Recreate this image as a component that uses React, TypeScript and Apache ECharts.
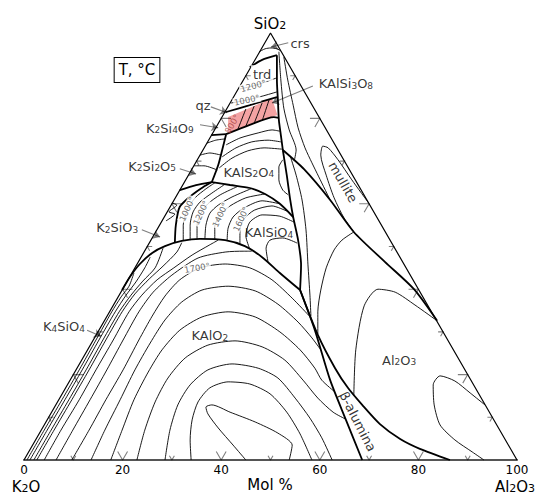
import React, { useEffect, useRef } from "react";
import * as echarts from "echarts";

type Pt = [number, number];
// All points: [horizontal position on the K2O–Al2O3 mol % scale (= Al2O3 + SiO2/2), SiO2 mol %]

const axisTickValues = [0, 20, 40, 60, 80, 100];
const edgeTickValues = [10, 20, 30, 40, 50, 60, 70, 80, 90];
const majorEdgeTicks = [20, 40, 60, 80];
const triangle: Pt[] = [[0, 0], [50, 100], [100, 0]];

// ---- phase boundaries (bold) ----
const bndKAlO2: Pt[] = [[19.9,39.8],[21.5,42.9],[23.5,45.9],[26.0,48.5],[28.6,50.1],[32.0,51.3],[35.7,51.8],[40.8,51.5],[44.8,50.1],[48.3,47.5],[51.9,43.8],[56.0,39.8]];
const bndKalsiliteWest: Pt[] = [[30.6,50.8],[30.8,55.0],[31.6,59.3],[34.1,62.1],[36.3,63.9],[38.1,65.1]];
const bndLeuciteKalsilite: Pt[] = [[38.1,65.1],[41.8,64.4],[45.8,63.7],[48.9,62.3],[51.9,60.0],[54.6,56.9]];
const bndCorundumWest: Pt[] = [[52.5,72.6],[53.3,66.7],[54.0,60.9],[54.6,56.9],[55.6,51.5],[56.2,45.7],[56.0,39.8]];
const bndBetaWest: Pt[] = [[56.0,39.8],[59.0,30.4],[62.1,18.7],[65.3,9.4],[68.6,0]];
const bndBetaEast: Pt[] = [[56.0,39.8],[59.6,29.3],[63.1,21.5],[65.7,16.9],[68.6,12.9],[72.2,8.4],[76.3,4.9],[80.3,2.6],[86.4,0]];
const bndMullite: Pt[] = [[52.5,72.6],[56.8,68.1],[62.1,60.9],[66.9,53.4],[73.2,46.4],[79.1,40.0],[83.8,32.6]];
const bndLeuciteWest: Pt[] = [[41.0,76.3],[40.2,72.6],[39.4,69.1],[38.1,65.1]];
const bndFeldsparSouth: Pt[] = [[41.0,76.3],[45.8,78.5],[50.7,80.3],[51.7,80.1]];
const bndFeldsparEast: Pt[] = [[51.3,94.8],[51.3,89.0],[51.5,84.3],[51.7,79.6],[52.1,76.1],[52.5,72.6]];
const bndTridymite: Pt[] = [[45.8,92.0],[48.3,93.7],[51.3,94.8]];
const bndQuartz: Pt[] = [[41.0,81.5],[45.8,83.1],[51.3,85.0]];
const bndDisilicate: Pt[] = [[31.6,63.2],[34.9,64.4],[38.1,65.1]];
const bndTetrasilicate: Pt[] = [[38.0,76.1],[41.0,76.3]];

// ---- feldspar (KAlSi3O8) field, shaded ----
const feldsparField: Pt[] = [[41.4,80.3],[50.3,84.7],[51.4,80.8],[45.8,78.5],[41.4,76.5]];

// ---- isotherms (thin) ----
const isoCrs: Pt[] = [[47.7,95.6],[48.9,96.3],[50.1,96.5],[51.3,96.3],[52.1,95.8]];
const isoTrd1200: Pt[] = [[43.8,86.9],[46.5,87.6],[48.9,88.5],[51.3,89.5]];
const isoTrd1000: Pt[] = [[42.0,83.6],[45.2,84.3],[48.3,85.2],[51.3,86.2]];
const isoFsp1: Pt[] = [[43.4,77.5],[45.0,82.2]];
const isoFsp2: Pt[] = [[45.0,78.2],[46.7,82.9]];
const isoFsp3: Pt[] = [[46.7,78.9],[48.3,83.6]];
const isoFsp4: Pt[] = [[48.3,79.4],[49.7,84.3]];
const isoLc1: Pt[] = [[41.0,73.8],[43.8,75.4],[47.5,76.6],[50.3,77.3],[51.9,77.0]];
const isoLc2: Pt[] = [[40.2,71.0],[43.0,73.1],[46.2,74.5],[49.5,74.9],[52.1,74.5]];
const isoLc3: Pt[] = [[39.6,68.4],[42.2,70.7],[45.4,72.4],[48.7,73.1],[52.3,72.8]];
const isoLc4: Pt[] = [[52.5,70.3],[51.7,68.6],[51.7,65.6],[52.5,63.2],[53.6,62.1]];
const isoKs1: Pt[] = [[37.1,74.2],[38.9,74.9],[40.8,75.2]];
const isoKs2: Pt[] = [[35.7,71.4],[37.7,71.9],[40.0,71.4]];
const isoKs3: Pt[] = [[34.5,68.9],[36.5,68.9],[39.2,67.9]];
const isoK2SiO3: Pt[] = [[28.8,56.0],[30.6,57.6],[29.4,58.1],[31.0,59.7],[30.0,60.2]];
const isoKs1000: Pt[] = [[32.3,51.3],[32.3,55.0],[33.1,58.5],[34.7,61.4],[36.9,63.5],[38.7,64.9]];
const isoKs1100: Pt[] = [[33.7,51.5],[33.7,55.0],[34.3,58.1],[35.7,60.4],[38.1,62.5],[40.8,64.6]];
const isoKs1200: Pt[] = [[35.1,51.8],[35.1,55.0],[35.9,57.8],[37.3,60.0],[39.8,62.1],[43.4,64.1]];
const isoKs1300: Pt[] = [[36.7,51.8],[36.9,55.0],[37.7,57.8],[39.4,59.7],[42.2,61.6],[46.2,63.6]];
const isoKs1400: Pt[] = [[38.7,51.5],[38.7,54.8],[39.8,57.4],[41.8,59.5],[45.0,61.4],[48.9,62.3]];
const isoKs1500: Pt[] = [[41.2,51.3],[41.4,54.3],[42.4,56.9],[44.6,59.0],[48.3,60.7],[51.9,60.0]];
const isoKs1600: Pt[] = [[43.8,50.6],[43.8,53.9],[44.6,56.4],[46.7,58.5],[50.3,59.5],[53.3,58.3]];
const isoKs1700: Pt[] = [[45.8,49.4],[45.0,52.5],[45.8,55.7],[48.3,57.4],[51.9,57.1],[54.8,55.7]];
const isoKs1750: Pt[] = [[49.5,46.4],[49.1,49.6],[49.9,51.5],[52.5,52.0],[55.4,50.8]];
const isoKa1: Pt[] = [[0.6,0],[4.1,7.0],[7.7,14.1],[11.2,21.1],[14.6,28.1],[17.8,34.7],[19.7,38.2],[21.3,40.7],[22.3,43.8]];
const isoKa2: Pt[] = [[1.2,0],[4.7,7.0],[8.3,14.1],[11.8,21.1],[15.2,28.1],[18.5,34.7],[20.7,38.6],[22.7,41.7],[24.5,45.0],[25.6,47.5]];
const isoKa3: Pt[] = [[2.0,0],[5.5,7.0],[9.1,14.1],[12.6,21.1],[16.0,28.1],[19.3,34.7],[21.7,38.6],[24.1,41.9],[26.6,45.0],[28.2,49.6]];
const isoKa4: Pt[] = [[2.6,0],[6.1,7.0],[9.7,14.1],[13.2,21.1],[16.6,28.1],[19.9,34.7],[22.5,38.9],[25.4,42.4],[28.2,45.4],[31.0,48.7],[32.0,50.9]];
const isoKa5: Pt[] = [[4.1,0],[7.5,7.0],[11.2,14.1],[14.6,21.1],[18.1,28.1],[21.3,34.7],[23.9,38.6],[27.0,42.2],[30.4,45.0],[34.1,48.0],[37.7,50.4],[39.4,51.5]];
const isoKa6: Pt[] = [[6.5,0],[9.9,7.0],[13.4,14.1],[16.8,21.1],[20.1,28.1],[23.3,34.7],[26.2,39.3],[30.0,43.3],[35.3,47.3],[40.8,48.7],[44.6,48.9],[46.2,48.9]];
const isoKa1700: Pt[] = [[9.7,0],[13.2,7.0],[16.6,14.1],[20.1,21.1],[23.3,28.1],[26.0,33.7],[28.6,38.4],[31.6,42.2],[35.7,45.0],[40.8,45.9],[45.8,45.0],[50.3,42.2],[54.4,37.9],[57.9,33.7]];
const isoKa8: Pt[] = [[13.6,0],[16.4,7.0],[19.5,14.1],[22.5,21.1],[25.6,27.4],[28.6,32.8],[32.0,37.0],[36.1,39.8],[41.4,40.7],[46.9,39.6],[51.5,36.5],[55.6,32.3],[58.4,28.6],[60.2,25.8]];
const isoKa9: Pt[] = [[17.6,0],[19.9,7.0],[22.3,14.1],[25.2,20.6],[28.0,25.8],[31.6,30.4],[36.1,33.5],[41.4,34.7],[46.9,33.5],[51.9,30.0],[56.0,25.8],[59.0,21.5],[60.4,18.7],[63.1,15.9]];
const isoKa10: Pt[] = [[22.9,0],[24.5,7.0],[26.6,13.6],[29.2,19.2],[32.7,23.9],[37.3,26.9],[42.8,27.9],[48.3,26.5],[52.9,23.4],[56.6,18.7],[59.6,14.5],[62.7,11.2],[65.2,9.6]];
const isoKa11: Pt[] = [[28.6,0],[29.6,7.0],[31.2,12.9],[33.7,17.6],[37.3,21.1],[42.2,22.5],[47.5,21.5],[51.5,19.2],[55.0,14.5],[58.0,9.8],[60.4,5.2],[62.5,0]];
const isoKa12: Pt[] = [[33.9,0],[33.7,4.7],[34.1,9.4],[35.3,13.6],[37.7,16.9],[41.4,18.3],[45.8,17.8],[49.9,15.5],[53.3,11.2],[56.0,6.1],[58.4,0]];
const isoKa13: Pt[] = [[45.0,0],[42.4,3.5],[39.4,7.5],[37.3,10.8],[36.9,12.4],[38.1,12.9],[41.8,11.2],[46.9,8.9],[51.5,6.3],[54.4,3.5],[53.8,0]];
const isoCor1: Pt[] = [[54.0,71.2],[55.2,66.7],[56.4,60.9],[57.2,53.9],[57.6,45.7],[58.0,38.6],[58.2,33.7]];
const isoCor2: Pt[] = [[66.9,53.4],[64.5,51.5],[62.9,49.2],[61.3,45.0],[60.2,39.8],[59.6,34.7],[59.6,29.5]];
const isoCor3: Pt[] = [[66.9,15.2],[67.3,25.8],[69.0,36.1],[71.8,40.0],[75.3,39.3],[79.3,36.3],[83.8,32.6]];
const isoCor4: Pt[] = [[93.5,12.9],[90.5,15.7],[87.4,18.5],[84.4,19.7],[83.0,17.6],[83.2,12.9],[84.4,8.2],[87.4,4.7],[90.9,1.9],[93.3,0]];
const isoMul1: Pt[] = [[51.7,95.6],[52.1,89.0],[52.7,82.4],[53.8,77.3],[55.2,72.6],[54.8,70.0]];
const isoMul2: Pt[] = [[52.7,94.4],[53.5,89.0],[54.6,83.1],[55.6,77.8],[57.0,73.1],[58.4,69.6],[59.8,66.3],[62.1,60.9]];
const isoMul3: Pt[] = [[69.9,60.2],[66.5,65.6],[63.7,70.3],[61.7,73.1],[60.6,73.5],[60.2,71.4],[61.3,66.7],[62.9,61.4],[64.9,56.7],[66.9,53.4]];

// ---- labels ----
const fieldLabels = [
  { text: "KAlO2", at: [37.7, 29.5] as Pt },
  { text: "KAlSiO4", at: [49.7, 53.6] as Pt },
  { text: "KAlS2O4", at: [45.6, 67.7] as Pt },
  { text: "Al2O3", at: [76.1, 23.7] as Pt },
  { text: "mullite", at: [64.7, 65.1] as Pt },
  { text: "β-alumina", at: [67.7, 9.0] as Pt },
  { text: "trd", at: [48.3, 90.6] as Pt },
];
const phaseLabels = [
  { text: "crs", at: [56.0, 97.9] as Pt, from: [53.6, 97.7] as Pt, to: [50.1, 96.7] as Pt },
  { text: "KAlSi3O8", at: [65.3, 88.5] as Pt, from: [58.6, 87.6] as Pt, to: [50.3, 83.6] as Pt },
  { text: "qz", at: [36.3, 83.4] as Pt, from: [37.9, 82.7] as Pt, to: [41.2, 81.3] as Pt },
  { text: "K2Si4O9", at: [29.6, 78.0] as Pt, from: [35.7, 78.5] as Pt, to: [39.4, 77.8] as Pt },
  { text: "K2Si2O5", at: [26.0, 69.1] as Pt, from: [31.6, 68.2] as Pt, to: [34.9, 67.0] as Pt },
  { text: "K2SiO3", at: [18.9, 54.8] as Pt, from: [23.9, 53.9] as Pt, to: [27.6, 52.2] as Pt },
  { text: "K4SiO4", at: [8.1, 31.6] as Pt, from: [12.8, 30.4] as Pt, to: [15.6, 29.0] as Pt },
];
const isothermLabels = [
  { text: "1700°", at: [35.1, 45.0] as Pt },
  { text: "1000°", at: [33.1, 58.8] as Pt },
  { text: "1200°", at: [35.9, 57.9] as Pt },
  { text: "1400°", at: [39.8, 57.4] as Pt },
  { text: "1600°", at: [44.0, 56.4] as Pt },
  { text: "1200°", at: [46.5, 87.6] as Pt },
  { text: "1000°", at: [45.2, 84.3] as Pt },
  { text: "800°", at: [42.2, 78.7] as Pt },
];

const labelRotation: Record<string, number> = { mullite: -60, "β-alumina": -63 };
const isoRotation = [10, 65, 65, 65, 65, 15, 12, 60];

const boldLines = [bndKAlO2, bndKalsiliteWest, bndLeuciteKalsilite, bndCorundumWest, bndBetaWest, bndBetaEast, bndMullite, bndLeuciteWest, bndFeldsparSouth, bndFeldsparEast, bndTridymite, bndQuartz, bndDisilicate, bndTetrasilicate];
const thinLines = [isoCrs, isoTrd1200, isoTrd1000, isoFsp1, isoFsp2, isoFsp3, isoFsp4, isoLc1, isoLc2, isoLc3, isoLc4, isoKs1, isoKs2, isoKs3, isoK2SiO3, isoKs1000, isoKs1100, isoKs1200, isoKs1300, isoKs1400, isoKs1500, isoKs1600, isoKs1700, isoKs1750, isoKa1, isoKa2, isoKa3, isoKa4, isoKa5, isoKa6, isoKa1700, isoKa8, isoKa9, isoKa10, isoKa11, isoKa12, isoKa13, isoCor1, isoCor2, isoCor3, isoCor4, isoMul1, isoMul2, isoMul3];

const FONT = "DejaVu Sans";

// chemical formula -> rich text with subscripted digits
const chem = (s: string) =>
  s
    .split(/(\d+)/)
    .filter((p) => p.length > 0)
    .map((p) => (/^\d+$/.test(p) ? `{s|${p}}` : `{n|${p}}`))
    .join("");

const richStyle = (size: number) => ({
  n: { fontSize: size, fontFamily: FONT, color: "#000", lineHeight: size + 3, verticalAlign: "bottom" },
  s: { fontSize: Math.round(size * 0.72), fontFamily: FONT, color: "#000", lineHeight: Math.round(size * 0.45), verticalAlign: "bottom" },
});

export default function App() {
  const ref = useRef<HTMLDivElement>(null);
  useEffect(() => {
    if (!ref.current) return;
    const chart = echarts.init(ref.current, undefined, { renderer: "svg" });

    const chevrons: Pt[][] = [];
    edgeTickValues.forEach((t) => {
      const L = majorEdgeTicks.includes(t) ? 2.0 : 1.0;
      chevrons.push([[t - L / 2, L], [t, 0], [t + L / 2, L]]);
      chevrons.push([[100 - t / 2 - L, t], [100 - t / 2, t], [100 - t / 2 - L / 2, t - L]]);
      chevrons.push([[t / 2 + L, t], [t / 2, t], [t / 2 + L / 2, t - L]]);
    });

    const lineSeries = (data: Pt[], width: number, z: number, smooth: number | boolean = 0.25) => ({
      type: "line",
      data,
      smooth,
      showSymbol: false,
      symbol: "none",
      silent: true,
      clip: false,
      z,
      lineStyle: { width, color: "#000" },
    });

    const series: any[] = [
      {
        type: "custom",
        silent: true,
        z: 1,
        data: [feldsparField[0]],
        renderItem: (_p: any, api: any) => ({
          type: "polygon",
          shape: { points: feldsparField.map((p) => api.coord(p)) },
          style: { fill: "#f4a3a3", stroke: "none" },
        }),
      },
      lineSeries(triangle, 1.2, 4, false),
      ...thinLines.map((d) => lineSeries(d, 0.9, 2)),
      ...boldLines.map((d) => lineSeries(d, 1.8, 3)),
      {
        type: "lines",
        coordinateSystem: "cartesian2d",
        polyline: true,
        silent: true,
        z: 4,
        lineStyle: { color: "#000", width: 1.1 },
        data: chevrons.map((c) => ({ coords: c })),
      },
      {
        type: "lines",
        coordinateSystem: "cartesian2d",
        silent: true,
        z: 6,
        symbol: ["none", "arrow"],
        symbolSize: 7,
        lineStyle: { color: "#000", width: 1.1 },
        data: phaseLabels.map((l) => ({ coords: [l.from, l.to] })),
      },
      {
        type: "scatter",
        silent: true,
        z: 10,
        symbolSize: 1,
        itemStyle: { color: "rgba(0,0,0,0)" },
        label: { show: true, position: "inside", fontSize: 13, color: "#000", fontFamily: FONT, rich: richStyle(13) },
        data: fieldLabels.map((l) => {
          const rot = labelRotation[l.text] || 0;
          return {
            value: l.at,
            label: {
              formatter: rot ? l.text : chem(l.text),
              rotate: rot,
              backgroundColor: l.text === "trd" ? "#fff" : "transparent",
              padding: l.text === "trd" ? [0, 2] : 0,
            },
          };
        }),
      },
      {
        type: "scatter",
        silent: true,
        z: 10,
        symbolSize: 1,
        itemStyle: { color: "rgba(0,0,0,0)" },
        label: { show: true, position: "inside", fontSize: 13, color: "#000", fontFamily: FONT, rich: richStyle(13) },
        data: phaseLabels.map((l) => ({ value: l.at, label: { formatter: chem(l.text) } })),
      },
      {
        type: "scatter",
        silent: true,
        z: 11,
        symbolSize: 1,
        itemStyle: { color: "rgba(0,0,0,0)" },
        label: { show: true, position: "inside", fontSize: 8.5, color: "#444", fontFamily: FONT },
        data: isothermLabels.map((l, i) => ({
          value: l.at,
          label: {
            formatter: l.text,
            rotate: isoRotation[i],
            backgroundColor: l.text === "800°" ? "transparent" : "#fff",
            color: l.text === "800°" ? "#a23b3b" : "#444",
            padding: [0, 1],
          },
        })),
      },
    ];

    const corner = (text: string, x: number, y: number) => ({
      type: "text",
      x,
      y,
      style: { text: chem(text), rich: richStyle(15), align: "center", verticalAlign: "middle", fill: "#000" },
    });

    chart.setOption({
      animation: false,
      grid: { left: 24, right: 22, top: 33, bottom: 35, containLabel: false },
      xAxis: {
        type: "value",
        min: 0,
        max: 100,
        interval: 20,
        axisLine: { show: true, lineStyle: { color: "#555", width: 2 } },
        axisTick: { show: false },
        splitLine: { show: false },
        axisLabel: {
          color: "#000",
          fontSize: 12,
          margin: 4,
          fontFamily: FONT,
          showMinLabel: true,
          showMaxLabel: true,
          customValues: axisTickValues,
        },
      },
      yAxis: { type: "value", min: 0, max: 100, show: false },
      graphic: [
        corner("SiO2", 270, 22),
        corner("K2O", 26, 485),
        { type: "text", x: 270, y: 485, style: { text: "Mol %", fontSize: 15, fontFamily: FONT, fill: "#000", align: "center", verticalAlign: "middle" } },
        corner("Al2O3", 515, 485),
        {
          type: "text",
          x: 137,
          y: 70,
          style: {
            text: "T, °C",
            fontSize: 15,
            fontFamily: FONT,
            fill: "#000",
            align: "center",
            verticalAlign: "middle",
            backgroundColor: "#fff",
            borderColor: "#000",
            borderWidth: 1,
            padding: [5, 4, 4, 4],
          },
        },
      ],
      series,
    });
    return () => chart.dispose();
  }, []);
  return <div ref={ref} style={{ position: "absolute", left: 0, top: 0, width: 539, height: 495 }} />;
}
